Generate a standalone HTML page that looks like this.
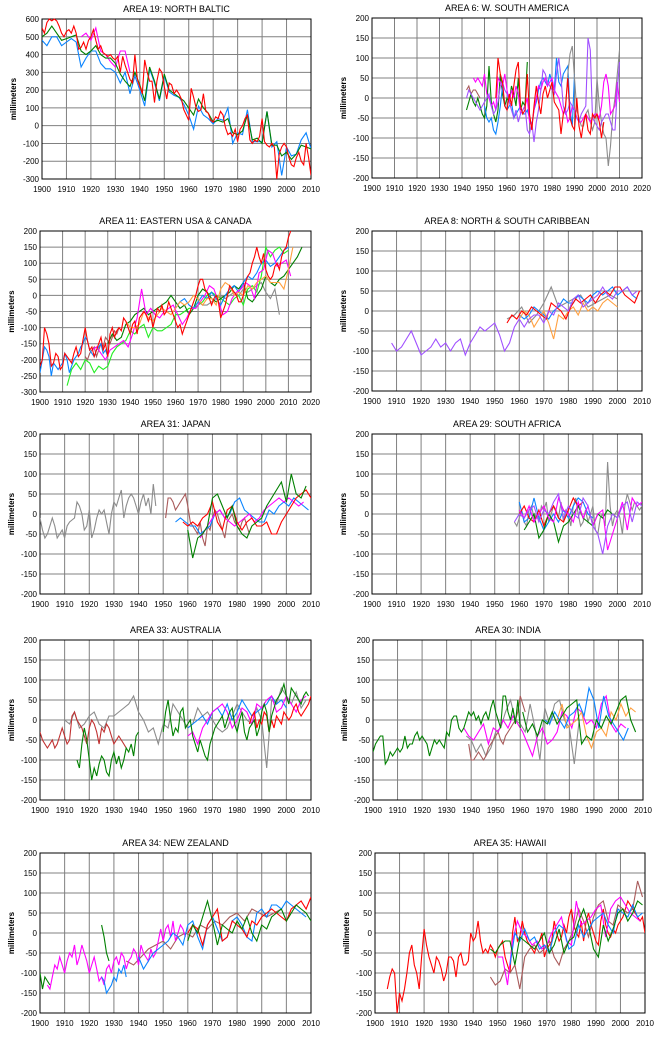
<!DOCTYPE html>
<html><head><meta charset="utf-8">
<style>
body{margin:0;background:#fff;}
svg{display:block;font-family:"Liberation Sans",sans-serif;}
</style></head>
<body>
<svg id="c" width="665" height="1047" viewBox="0 0 665 1047"></svg>
<script>
// ---- data ----
const baltic_red=[550,520,580,600,590,600,590,560,520,500,530,540,520,560,520,430,440,470,430,480,500,540,480,430,450,410,400,390,400,380,370,390,300,390,340,300,260,240,400,260,220,180,370,300,250,250,130,250,320,300,220,150,240,230,180,200,180,150,90,60,30,210,160,100,80,90,180,80,70,30,20,50,40,80,60,-10,-50,-40,-60,-20,-90,-20,0,40,60,-80,-100,-80,-90,-60,40,-90,-110,-120,-100,-120,-300,-160,-120,-100,-120,-180,-220,-230,-180,-150,-200,-220,-100,-180,-280];
const baltic_green=[500,520,560,520,480,490,500,510,420,400,420,450,400,380,380,350,290,250,220,300,230,140,330,250,150,290,200,180,160,140,100,60,150,100,70,20,30,20,40,-40,-50,-30,60,-80,-70,-100,80,-110,-110,-170,-150,-190,-160,-110,-120,-130];
const baltic_blue=[480,450,500,500,450,470,490,470,330,380,420,420,350,320,320,300,240,300,180,280,200,110,320,240,140,280,190,170,160,120,60,-20,110,60,40,10,40,30,100,-100,-40,-50,90,-90,-90,-90,80,-120,-90,-280,-120,-170,-160,-80,-40,-130];
const baltic_magenta=[500,520,480,550,420,400,360,330,420,420,300];
const wsa_green=[-30,-10,10,-10,-20,0,-20,-40,-50,-20,80,-10,-40,-60,-30,60,10,-20,0,-10,30,10,-20,50,-30,-10,-20,90];
const wsa_blue=[-20,-50,-60,-50,-80,-90,-60,-20,30,-20,-30,-20,-10,-50,-40,-30,-20,-40,-40,-30,-50,-70,-30,-10,20,40,50,40,30,60,40,20,100,40,30,60,70,80,-30,-70,60];
const wsa_red=[0,100,60,40,-20,-30,10,-20,30,70,90,-20,-40,-30,60,-40,-80,-20,30,-10,-40,10,30,0,20,40,-10,-20,-30,-90,-40,-20,50,-50,-70,-80,0,-70,-100,-60,-40,-80,-90,-40,-50,-40,-60,-100,-60];
const wsa_magenta=[50,40,50,40,30,60,10,0,-20,-10,-30,50,40,30,60,20,-10,20,0,30,10,-40,-30,-20,0,-60,-70,-30,0,30,20,40,50,30,40,50,20,10,0,-20,-40,-30,-60,-50,-20,-30,-50,-60,-60,-50,-40,-50,-60,-50,-40,-40,-50,-20,40,60,30,-40,-30,-20,40,-10];
const wsa_purple=[0,20,10,0,-10,-20,-30,-20,-10,0,10,-20,-40,-30,-10,30,40,20,10,-10,-30,-50,-30,-60,-40,-30,-20,-80,-90,-60,-110,-60,-30,20,70,60,40,30,20,10,60,100,50,-20,-40,-30,-10,-20,-30,-50,-60,-40,-30,-20,150,120,-50,-60,-70,-80,-60,-50,-40,-40,-60,-80,-80,20,90];
const wsa_gray=[-40,-30,60,110,130,50,-30,-50,-70,-70,-40,-30,-60,-80,-60,50,-20,-60,-90,-100,-170,-120,-40,0,60,120];
const wsa_brown=[20,30,10,20,20,10,0];
const eusa_red=[-220,-200,-100,-120,-150,-220,-210,-180,-190,-230,-220,-180,-190,-200,-210,-180,-160,-190,-180,-140,-100,-140,-170,-160,-190,-170,-150,-130,-170,-150,-190,-120,-100,-130,-110,-100,-110,-70,-80,-100,-120,-90,-80,-120,-70,-60,-50,-60,-80,-60,-100,-70,-40,-50,-30,-60,-50,-20,-40,-60,-80,-100,-90,-120,-100,-80,-60,-40,-20,0,30,50,50,20,10,-10,-30,-10,0,-20,-70,-50,-30,0,30,20,10,0,-20,-20,0,40,60,70,100,120,150,120,100,130,80,60,50,60,90,100,80,120,140,150,180,200];
const eusa_blue1=[-240,-200,-160,-170,-190,-250,-210,-220,-230,-220,-210,-180,-200,-240,-220,-200,-190,-180,-160,-150,-130,-140,-170,-180,-190,-170,-160,-150,-180,-170,-190];
const eusa_blue2=[-40,-20,-10,-30,-40,-20,0,-10,10,-10,-30,0,20,30,10,40,60,50,70,100,110,90,100,120,140,150];
const eusa_lgreen=[-280,-230,-210,-230,-200,-210,-240,-220,-230,-220,-180,-160,-150,-140,-110,-120,-100,-90,-130,-100,-110,-110,-100,-90,-60,-60,-50,-40,-40,-30,-20,0,10,0,-10,-20,-30,-10,0,-30,20,30,10,60,150,120,140,150,130,140];
const eusa_magenta=[-170,-160,-180,-200,-170,-160,-150,-140,-160,-120,-70,20,-60,-40,-60,-70,-50,-40,-30,-60,-90,-70,-40,-40,-20,0,30,20,-20,-60,-50,-10,10,20,40,30,-10,70,80,140,130,90,100,110,60];
const eusa_orange=[-80,-100,-100,-90,-50,-70,-80,-60,-40,-50,-60,-40,-20,-30,-20,0,-10,-30,-10,-10,-30,20,40,30,0,10,0,30,20,40,50,60,40,40,40,20,80,150];
const eusa_dgreen=[-150,-120,-140,-130,-90,-80,-60,-50,-40,-60,-50,-40,-30,-20,0,-20,-40,-30,-60,-40,0,20,10,-10,-20,-10,0,10,30,20,40,-10,-20,0,20,60,40,30,50,60,80,100,120,150];
const eusa_gray=[-20,-30,-30,-20,-10,0,-10,0,10,0,20,10,20,30,40,10,-10,20,-60];
const eusa_brown=[-190,-200,-180,-170,-160,-190,-170,-150,-160,-130,-140,-150,-130,-110,-120,-100];
const car_purple=[-80,-100,-90,-70,-50,-80,-110,-100,-90,-70,-90,-80,-100,-80,-70,-110,-80,-60,-40,-50,-40,-30,-60,-100,-80,-40,-20,-40,-20,-10,-10,-30,0,-10,20,10,0,30,40,10,20,30,40,60,40,30,50,50,60,40,50];
const car_red=[-30,-10,-20,0,-10,10,0,-10,-20,20,10,0,-20,10,30,20,30,40,20,40,50,40,60,60,40,30,20,50];
const car_orange=[-20,0,-10,-40,-20,0,-30,-70,-10,-20,0,10,-10,20,0,10,0,20,30,20,10];
const car_blue=[-10,-20,-10,10,0,-10,-20,0,10,30,20,20,40,30,20,40,50,40,50,60,40,50,60,40,30];
const car_gray=[-20,-10,10,-30,-10,20,60,10,20,30,40,10,20,30,40,30];
const jap_gray=[-10,-40,-60,-50,-30,-10,-30,-60,-50,-40,-60,-30,-20,-15,-10,30,20,0,-40,-30,10,-60,-40,-10,10,0,10,-20,-50,0,30,20,40,60,-10,20,40,50,40,20,0,30,50,20,40,0,75,20];
const jap_brown=[-10,40,40,30,10,20,30,40,50,20,-20,-30,-40,-50,-20,-60,-80,-30,-40,-10,10,0,-20,-40,-60,-20,-10,0,-20,-30,-40,-20,-10,-30,-50];
const jap_blue=[-20,-10,-20,-30,-30,-50,-40,-30,0,10,-10,0,30,40,10,0,-10,-20,-20,10,0,20,30,20,40,30,20,10];
const jap_red=[-20,-30,-20,-30,-10,0,30,-20,-40,10,20,-20,-40,-20,-10,-30,-30,-20,-50,-50,-20,0,20,40,50,60,40];
const jap_green=[-40,-110,-60,-50,-30,40,50,20,-10,20,-30,-50,-60,-30,-20,-10,20,40,60,80,30,100,50,40,70];
const jap_magenta=[-60,-40,-20,0,10,-10,-20,-30,-20,-10,0,-20,-10,10,20,30,40,30,40,30,20,30];
const saf_gray=[-20,-30,-10,10,-20,-30,10,20,-10,0,-20,20,10,30,-20,0,20,10,-10,30,-20,10,0,-30,20,40,0,-30,-20,10,-20,0,20,-40,-50,-10,0,-30,130,20,-30,0,10,-10,-50,20,50,30,10,30,20,10,20];
const saf_magenta=[10,-10,20,-20,0,20,-10,-20,40,10,0,-20,30,-10,20,-30,0,10,-90,-50,-10,30,-40,40,20,30];
const saf_purple=[-20,0,-10,10,20,-20,10,0,30,50,-10,20,0,-10,40,20,-30,-50,-100,-30,0,-10,20,30,-20,30,20];
const saf_green=[-40,-20,0,-60,-40,0,-20,-70,-30,-20,0,20,-10,-20,-30,0,-10,10,0,-10];
const saf_blue=[30,-20,-10,40,-10,-40,-20,0,-20,10,-10,20,40,30,0,-10];
const saf_red=[0,20,-10,-20,10,-30,0,20,-10,-20,10,40,20,30];
const aus_dred=[-30,-50,-60,-70,-60,-50,-70,-60,-40,-20,-40,-60,-50,10,20,0,-10,-20,-40,-60,-20,0,-10,-30,-60,-20,-30,-10,-20,-40,-60,-50,-40,-50,-60,-70];
const aus_green1=[-100,-120,-60,-20,-50,-100,-150,-120,-140,-110,-90,-100,-130,-140,-100,-80,-110,-90,-120,-100,-70,-80,-60,-90,-40,-30];
const aus_gray=[0,-10,20,-20,-10,10,20,-10,-20,10,10,20,30,40,60,20,0,-30,-20,-60,-10,-20,40,20,0,-20,-10,30,10,20,0,-20,-30,-20,10,40,20,0,-10,30,0,-120,50,40,80,60,40,70,30,50];
const aus_dgreen=[-30,20,50,0,-40,-20,-30,20,30,-20,-10,0,-40,-60,-80,-50,-70,-90,-100,-60,-40,-20,-10,0,10,-20,0,20,30,-10,-30,0,20,-30,-50,-20,-10,0,-40,-20,20,40,20,-30,10,30,50,60,70,90,60,40,80,70,60,50,40,60,70,60];
const aus_magenta=[-40,-30,-60,-20,0,20,30,40,20,-20,0,30,20,-10,40,30,50,60,20,30,60,40,20,50,60];
const aus_blue=[-20,-10,0,10,-10,20,30,10,40,0,20,50,30,10,20,30,40,60,40,50,30];
const aus_red=[-10,10,20,-20,0,-10,20,10,-30,0,-20,10,0,-10,20,10,0,10,30,40,20,10,20,30,40,60];
const ind_green1=[-80,-60,-50,-40,-40,-110,-100,-80,-90,-80,-70,-80,-70,-40,-70,-60,-60,-40,-30,-50,-40,-50,-60,-90,-70,-50,-60,-50,-60,-70,-30,-40,0,10,10,-20,-30,-20,0,20,10,20,0,10,-10,10,20,0,30,50,20,0,-20,60,60,20,0,30,-10,50,-20];
const ind_green2=[20,-30,-10,-40,0,-10,20,-10,10,30,40,50,-60,-40,-50,0,-20,10,-10,20,50,60,0,-30];
const ind_magenta=[-20,-40,-50,-30,-10,-60,-20,-30,0,-20,10,-10,-30,-60,-90,-40,-20,-60,-50,-30,20,10,-20,30,20,-10,0,-20,40,60,-10,-30,-10,-20];
const ind_gray=[-40,-50,-80,-60,-90,-70,-30,-20,20,50,0,-10,-30,40,-20,-100,30,-10,40,50,0,-20,-110,0];
const ind_brown=[-60,-100,-100,-90,-80,-90,-100,-90,-70,-60,-50,-40,-30,-50,-60,-40,-30,-20,-10,0,20,60,40,20];
const ind_blue=[0,-10,20,0,-20,10,20,40,10,80,50,-20,60,10,-10,-30,-50,-20];
const ind_orange=[0,40,-20,-10,0,20,-40,-70,-30,-20,-40,20,0,40,10,30,20];
const nz_magenta=[-130,-140,-110,-80,-90,-60,-80,-100,-70,-50,-60,-30,-80,-60,-30,-50,-70,-100,-80,-60,-90,-120,-110,-130,-90,-80,-100,-70,-60,-80,-50,-60,-90,-70,-60,-40,-50,-80,-30,-50,-60,-70,-40,-60,-50,-20,10,-20,10,20,-10,30,-20,0,20,10,-10];
const nz_green1=[-100,-140,-110,-120,-130];
const nz_green2=[20,-10,-50,-70];
const nz_green3=[-20,20,0,40,80,30,-30,20,10,0,30,10,40,0,-20,20,10,40,50,60,30,50,70,60,50,30];
const nz_blue1=[-110,-120,-150,-140,-130,-110,-120,-90,-100,-80,-110];
const nz_blue2=[-60,-90,-70,-50,-40,-30,-20,0,-10,-30,20,30,-10,-40,20,40,10,-20,-10,30,40,20,-10,-20,50,60,40,70,70,60,80,70,60,50,40];
const nz_red=[0,20,10,-30,20,40,60,-20,-10,30,20,10,-10,30,20,40,50,60,50,40,30,60,70,80,60,90];
const nz_brown=[-70,-80,-60,-40,-30,-20,-40,-10,0,-10,20,10,30,20,40,50,30,60,50,40,50,60];
const haw_red=[-140,-110,-90,-100,-200,-150,-170,-140,-100,-50,-30,-80,-100,-140,-60,10,-30,-60,-80,-100,-60,-70,-90,-120,-100,-60,-60,-70,-110,-60,-50,-80,-80,-70,0,-20,-10,30,-20,-50,-40,-50,-30,-40,-60,-40,-30,-20,-60,-80,-100,0,40,-20,-10,30,0,-20,-30,-40,-50,-30,-20,0,-60,-40,-30,-20,30,0,-20,-10,20,0,40,60,20,0,-10,30,-20,30,50,20,0,-20,-30,30,60,20,0,-10,10,0,20,30,40,60,80,70,60,50,40,30,40,0];
const haw_brown=[-110,-130,-120,-90,-100,-80,-140,-60,-40,-30,-50,-40,-20,-60,-80,-40,-20,10,60,30,-10,40,70,80,30,20,70,60,50,60,130,90];
const haw_green=[-40,-50,-30,-20,-20,-80,-10,-20,-30,-40,-20,0,-50,-30,10,-50,-20,-10,30,60,20,-40,-60,20,-20,10,50,60,30,50,80,70];
const haw_magenta=[-60,-60,-130,-20,30,0,-10,-30,-20,-40,-30,0,20,40,-20,-30,80,20,30,40,60,70,-10,60,80,90,70,50,40,30];
const haw_blue=[-80,0,-20,10,-20,-10,-40,-30,-50,0,20,10,-40,-30,20,-10,10,30,40,50,20,0,60,50,40,70,40,50];

const R='#ff0000',G='#008000',B='#0a84ff',M='#ff00ff',LG='#22ee22',O='#ffa040',GR='#8c8c8c',BR='#a85a5a',P='#a050ff',DB='#0000ff';
// [values, startYear, stepYears, color]
const panels=[
 {id:'north-baltic',title:'AREA 19: NORTH BALTIC',x0:42,x1:311,yT:19,yB:179,xmin:1900,xmax:2010,ymin:-300,ymax:600,ys:100,
  s:[[baltic_magenta,1916,2,M],[baltic_blue,1900,2,B],[baltic_green,1900,2,G],[baltic_red,1900,1,R]]},
 {id:'w-south-america',title:'AREA 6: W. SOUTH AMERICA',x0:372,x1:642,yT:18,yB:178,xmin:1900,xmax:2020,ymin:-200,ymax:200,ys:50,
  s:[[wsa_brown,1942,1,BR],[wsa_green,1942,1,G],[wsa_blue,1950,1,B],[wsa_gray,1985,1,GR],[wsa_magenta,1945,1,M],[wsa_purple,1942,1,P],[wsa_red,1955,1,R]]},
 {id:'eastern-usa-canada',title:'AREA 11: EASTERN USA & CANADA',x0:40,x1:311,yT:231,yB:392,xmin:1900,xmax:2020,ymin:-300,ymax:200,ys:50,
  s:[[eusa_gray,1970,2,GR],[eusa_brown,1920,1,BR],[eusa_lgreen,1912,2,LG],[eusa_dgreen,1930,2,G],[eusa_blue1,1900,1,B],[eusa_blue2,1960,2,B],[eusa_magenta,1923,2,M],[eusa_orange,1938,2,O],[eusa_red,1900,1,R]]},
 {id:'caribbean',title:'AREA 8: NORTH & SOUTH CARIBBEAN',x0:372,x1:642,yT:231,yB:391,xmin:1900,xmax:2010,ymin:-200,ymax:200,ys:50,
  s:[[car_gray,1955,3,GR],[car_blue,1960,2,B],[car_orange,1960,2,O],[car_red,1955,2,R],[car_purple,1908,2,P]]},
 {id:'japan',title:'AREA 31: JAPAN',x0:40,x1:311,yT:434,yB:594,xmin:1900,xmax:2010,ymin:-200,ymax:200,ys:50,
  s:[[jap_gray,1900,1,GR],[jap_brown,1951,1,BR],[jap_blue,1955,2,B],[jap_magenta,1965,2,M],[jap_red,1958,2,R],[jap_green,1960,2,G]]},
 {id:'south-africa',title:'AREA 29: SOUTH AFRICA',x0:372,x1:642,yT:434,yB:594,xmin:1900,xmax:2010,ymin:-200,ymax:200,ys:50,
  s:[[saf_gray,1958,1,GR],[saf_blue,1960,2,B],[saf_red,1960,2,R],[saf_green,1962,2,G],[saf_magenta,1960,2,M],[saf_purple,1958,2,P]]},
 {id:'australia',title:'AREA 33: AUSTRALIA',x0:40,x1:311,yT:640,yB:800,xmin:1900,xmax:2010,ymin:-200,ymax:200,ys:50,
  s:[[aus_gray,1910,2,GR],[aus_dred,1900,1,'#c03030'],[aus_green1,1915,1,G],[aus_blue,1960,2,B],[aus_magenta,1960,2,M],[aus_red,1985,1,R],[aus_dgreen,1950,1,G]]},
 {id:'india',title:'AREA 30: INDIA',x0:373,x1:643,yT:640,yB:800,xmin:1900,xmax:2010,ymin:-200,ymax:200,ys:50,
  s:[[ind_gray,1938,2,GR],[ind_brown,1939,1,BR],[ind_magenta,1937,2,M],[ind_orange,1975,2,O],[ind_blue,1970,2,B],[ind_green1,1900,1,G],[ind_green2,1961,2,G]]},
 {id:'new-zealand',title:'AREA 34: NEW ZEALAND',x0:40,x1:311,yT:853,yB:1013,xmin:1900,xmax:2010,ymin:-200,ymax:200,ys:50,
  s:[[nz_brown,1935,3,BR],[nz_magenta,1903,1,M],[nz_blue1,1925,1,B],[nz_blue2,1940,2,B],[nz_red,1960,2,R],[nz_green1,1900,1,G],[nz_green2,1925,1,G],[nz_green3,1960,2,G]]},
 {id:'hawaii',title:'AREA 35: HAWAII',x0:375,x1:645,yT:853,yB:1013,xmin:1900,xmax:2010,ymin:-200,ymax:200,ys:50,
  s:[[haw_red,1905,1,R],[haw_brown,1947,2,BR],[haw_magenta,1950,2,M],[haw_blue,1955,2,B],[haw_green,1947,2,G]]}
];
const NS='http://www.w3.org/2000/svg';
const svg=document.getElementById('c');
const defs=document.createElementNS(NS,'defs');svg.appendChild(defs);
function el(t,a,p){const e=document.createElementNS(NS,t);for(const k in a)e.setAttribute(k,a[k]);(p||svg).appendChild(e);return e;}
panels.forEach((p,pi)=>{
  const g=el('g',{});
  
  
  const X=v=>p.x0+(v-p.xmin)/(p.xmax-p.xmin)*(p.x1-p.x0);
  const Y=v=>p.yB-(v-p.ymin)/(p.ymax-p.ymin)*(p.yB-p.yT);
  const cp=el('clipPath',{id:'clip'+pi},defs);
  el('rect',{x:p.x0,y:p.yT-1,width:p.x1-p.x0,height:p.yB-p.yT+2},cp);
  for(let v=p.ymin;v<=p.ymax;v+=p.ys){
    const l=el('line',{x1:p.x0,x2:p.x1,y1:Y(v),y2:Y(v),stroke:'#808080','stroke-width':1},g);
    
    
    const t=el('text',{x:p.x0-3,y:Y(v)+3,'text-anchor':'end','font-size':8},g);
    t.textContent=v;
    
    
  }
  for(let v=p.xmin;v<=p.xmax;v+=10){
    const l=el('line',{x1:X(v),x2:X(v),y1:p.yT,y2:p.yB,stroke:'#808080','stroke-width':1},g);
    
    
    const t=el('text',{x:X(v),y:p.yB+13,'text-anchor':'middle','font-size':8},g);
    t.textContent=v;
    
    
  }
  const fr=el('rect',{x:p.x0,y:p.yT,width:p.x1-p.x0,height:p.yB-p.yT,fill:'none',stroke:'#000','stroke-width':1},g);
  
  
  const tt=el('text',{x:(p.x0+p.x1)/2,y:p.yT-7,'text-anchor':'middle','font-size':9},g);
  tt.textContent=p.title;
  
  
  const cy=(p.yT+p.yB)/2;
  const yl=el('text',{x:p.x0-26,y:cy,'text-anchor':'middle','font-size':8,'font-weight':'bold',transform:`rotate(-90 ${p.x0-26} ${cy})`},g);
  yl.textContent='millimeters';
  
  
  const sg=el('g',{'clip-path':`url(#clip${pi})`},g);
  
  
  p.s.forEach(s=>{
    const [vals,start,step,col]=s;
    const pts=vals.map((v,i)=>X(start+i*step).toFixed(1)+','+Y(Math.max(p.ymin,Math.min(p.ymax,v))).toFixed(1)).join(' ');
    const pl=el('polyline',{points:pts,fill:'none',stroke:col,'stroke-width':1.1},sg);
    
    
  });
});
</script>
</body></html>
